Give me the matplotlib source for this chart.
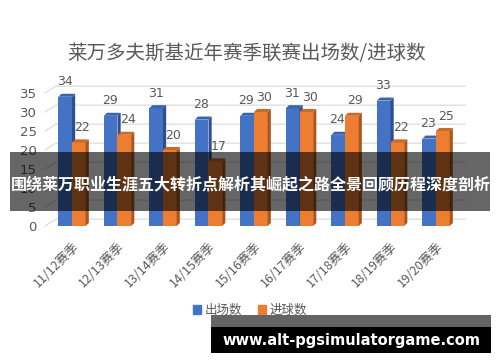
import matplotlib
matplotlib.use('Agg')
import matplotlib.pyplot as plt
from matplotlib.patches import Polygon, Rectangle

plt.rcParams['font.family'] = ['Noto Sans CJK SC', 'DejaVu Sans']

# data
seasons = ['11/12赛季', '12/13赛季', '13/14赛季', '14/15赛季', '15/16赛季',
           '16/17赛季', '17/18赛季', '18/19赛季', '19/20赛季']
apps = [34, 29, 31, 28, 29, 31, 24, 33, 23]
goals = [22, 24, 20, 17, 30, 30, 29, 22, 25]
yticks = [0, 5, 10, 15, 20, 25, 30, 35]

title = '莱万多夫斯基近年赛季联赛出场数/进球数'
banner = '围绕莱万职业生涯五大转折点解析其崛起之路全景回顾历程深度剖析'
site = 'www.alt-pgsimulatorgame.com'

grey = '#595959'
blue, blue_side, blue_top = '#4472C4', '#2E4F8F', '#3A62AD'
orange, orange_side, orange_top = '#ED7D31', '#A9561F', '#C9692A'

W, H = 500, 362
fig = plt.figure(figsize=(W / 100, H / 100), dpi=100)
fig.patch.set_facecolor('white')

# axes placed in pixels
left_px, right_px, bot_px = 45, 465, 226
ymax = 38
px_per_unit = 3.8
ax = fig.add_axes([left_px / W, (H - bot_px) / H, (right_px - left_px) / W,
                   ymax * px_per_unit / H])
xl, xr = -0.593, 8.637
ax.set_xlim(xl, xr)
ax.set_ylim(0, ymax)
for s in ax.spines.values():
    s.set_visible(False)

# 3d-ish gridlines: slanted start on the left, then the back wall
ddx, ddy = 0.24, 1.8
for v in yticks:
    ax.plot([xl, xl + ddx, xr], [v, v + ddy, v + ddy], color='#d9d9d9',
            lw=0.8, zorder=1, clip_on=False)

bw = 0.3
dx, dy = 0.07, 0.8


def bars3d(xs, vals, front, side, top, lab_dx):
    ax.bar(xs, vals, width=bw, color=front, zorder=3)
    for x, v in zip(xs, vals):
        x1 = x + bw / 2
        x0 = x - bw / 2
        ax.add_patch(Polygon([(x1, 0), (x1 + dx, dy), (x1 + dx, v + dy), (x1, v)],
                             closed=True, facecolor=side, edgecolor='none', zorder=3))
        ax.add_patch(Polygon([(x0, v), (x0 + dx, v + dy), (x1 + dx, v + dy), (x1, v)],
                             closed=True, facecolor=top, edgecolor='none', zorder=3))
        ax.annotate(str(v), (x, v), xytext=(lab_dx, 6), textcoords='offset points',
                    ha='center', va='bottom', fontsize=9, color=grey,
                    family='DejaVu Sans')


idx = list(range(len(seasons)))
bars3d([i - bw / 2 for i in idx], apps, blue, blue_side, blue_top, -0.5)
bars3d([i + bw / 2 for i in idx], goals, orange, orange_side, orange_top, 2.5)

ax.set_yticks(yticks)
ax.set_yticklabels([str(v) for v in yticks], fontsize=9.5, color=grey,
                   family='DejaVu Sans')
ax.tick_params(axis='y', length=0, pad=6)
ax.set_xticks(idx)
ax.set_xticklabels(seasons, rotation=45, ha='right', va='top',
                   rotation_mode='anchor', fontsize=9, color=grey)
ax.tick_params(axis='x', length=0, pad=10)

fig.text(247 / W, 1 - 53 / H, title, ha='center', va='center',
         fontsize=14, color=grey)

# legend
hs = [Rectangle((0, 0), 1, 1, color=blue), Rectangle((0, 0), 1, 1, color=orange)]
fig.legend(hs, ['出场数', '进球数'], loc='center', bbox_to_anchor=(250 / W, 1 - 310 / H),
           ncol=2, frameon=False, fontsize=9, handlelength=0.7, handleheight=0.7,
           columnspacing=1.2, handletextpad=0.3, labelcolor=grey)

# dark overlay banner across the middle
fig.add_artist(Rectangle((10 / W, 1 - 211 / H), 480 / W, 59 / H,
                         transform=fig.transFigure, facecolor='black',
                         alpha=0.6, edgecolor='none', zorder=10))
fig.text(251 / W, 1 - 184 / H, banner, ha='center', va='center', fontsize=11.5,
         color='white', weight='bold', zorder=11)

# site box bottom right
fig.add_artist(Rectangle((211 / W, 1 - 327 / H), 280 / W, 12 / H,
                         transform=fig.transFigure, facecolor='#646464',
                         edgecolor='none', zorder=10))
fig.add_artist(Rectangle((211 / W, 1 - 353 / H), 280 / W, 26 / H,
                         transform=fig.transFigure, facecolor='black',
                         edgecolor='none', zorder=10))
fig.text(351 / W, 1 - 340 / H, site, ha='center', va='center', fontsize=10.5,
         color='white', weight='bold', family='DejaVu Sans', zorder=11)

fig.savefig('out.png', dpi=100)
